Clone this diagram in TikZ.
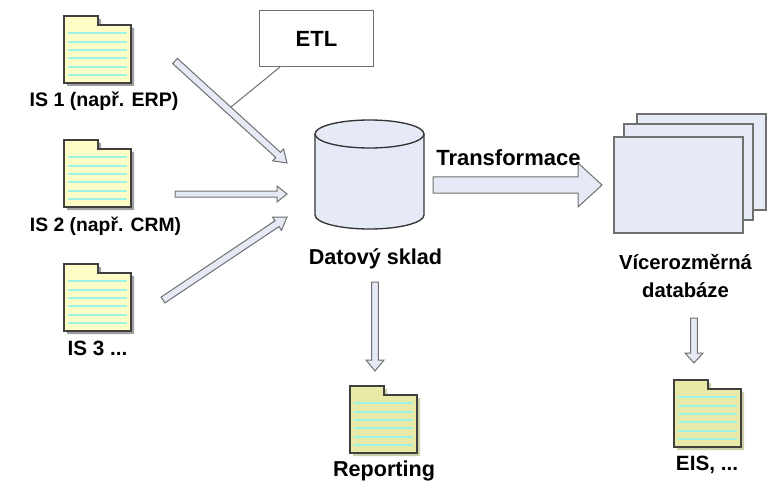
\documentclass[tikz,border=0pt]{standalone}
\usepackage{fontspec}
\setmainfont{Liberation Sans}
\usetikzlibrary{calc}
\definecolor{arrowfill}{HTML}{E6EAF6}
\definecolor{arrowline}{HTML}{707070}
\definecolor{notefill}{HTML}{FEFDC8}
\definecolor{notefilld}{HTML}{EAEAA8}
\definecolor{noteline}{HTML}{9CF5E4}
\definecolor{shadowa}{HTML}{A0A0A0}
\definecolor{shadowb}{HTML}{CFCFA8}
\tikzset{
  x=0.75pt,y=-0.75pt,
  lbl/.style={font=\fontsize{#1pt}{21pt}\selectfont\bfseries,align=center,inner sep=0pt},
  lbl/.default=14.7,
  blockarrow/.style={draw=arrowline,fill=arrowfill,line width=0.75pt,line join=miter},
  sheet/.style={draw=arrowline,fill=arrowfill,line width=0.9pt},
}
% \folder{x}{y}{fill}{shadow}{name}
\newcommand{\folder}[5]{%
  \begin{scope}[shift={(#1,#2)}]
    \fill[#4] (3,3) -- (37,3) -- (37,12) -- (70,12) -- (70,70) -- (3,70) -- cycle;
    \path[draw=black!75,line width=1pt,fill=#3] (0,0) coordinate (#5) -- (34,0) -- (34,9) -- (67,9) -- (67,67) -- (0,67) -- cycle;
    \foreach \yy in {17,26,34,42,51,59}
      \draw[noteline,line width=0.8pt] (4,\yy) -- (63,\yy);
  \end{scope}}
% \blockarr{a}{b}{shaft half}{head half}{head length}, sizes in px
\newcommand{\blockarr}[5]{%
  \coordinate (hb) at ($(#2)!{#5*0.75pt}!(#1)$);
  \draw[blockarrow]
    ($(#1)!{#3*0.75pt}!90:(#2)$) --
    ($(hb)!{#3*0.75pt}!-90:(#1)$) --
    ($(hb)!{#4*0.75pt}!-90:(#1)$) --
    (#2) --
    ($(hb)!{#4*0.75pt}!90:(#1)$) --
    ($(hb)!{#3*0.75pt}!90:(#1)$) --
    ($(#1)!{#3*0.75pt}!-90:(#2)$) -- cycle;}
\begin{document}
\begin{tikzpicture}
\useasboundingbox (0,0) rectangle (767,481);
\fill[white] (0,0) rectangle (767,481);

% sources
\folder{64}{16}{notefill}{shadowa}{f1}
\folder{64}{140}{notefill}{shadowa}{f2}
\folder{64}{264}{notefill}{shadowa}{f3}
\folder{350}{386}{notefilld}{shadowb}{f4}
\folder{674}{380}{notefilld}{shadowb}{f5}

\node[lbl] (l1) at (104,101) {IS 1 (např. ERP)};
\node[lbl=14.5] (l2) at (105.5,226) {IS 2 (např. CRM)};
\node[lbl=15.5] (l3) at (97.5,348) {IS 3 ...};
\node[lbl=16.2] (l4) at (384,471) {Reporting};
\node[lbl=15.5] (l5) at (707,465) {EIS, ...};

% ETL
\node[draw=arrowline,fill=white,line width=0.75pt,minimum width=85pt,minimum height=42pt,inner sep=0pt,font=\fontsize{16.5pt}{18pt}\selectfont\bfseries] (etl) at (316.5,39) {ETL};
\coordinate (etlfoot) at (280,67);
\coordinate (a1mid) at (231,107);
\draw[arrowline,line width=0.75pt] (etlfoot) -- (a1mid);

% arrows
\coordinate (a1s) at (175,61);  \coordinate (a1e) at (287,163);
\coordinate (a2s) at (175,194); \coordinate (a2e) at (287,194);
\coordinate (a3s) at (163,300); \coordinate (a3e) at (287,217);
\blockarr{a1s}{a1e}{3.5}{8}{12}
\blockarr{a2s}{a2e}{3}{8}{10}
\blockarr{a3s}{a3e}{3.5}{8}{12}

% warehouse
\draw[draw=black!80,fill=arrowfill,line width=1pt]
  (315,134) -- (315,215) arc[start angle=180,end angle=360,x radius=54.5,y radius=-14] -- (424,134);
\draw[draw=black!80,fill=arrowfill,line width=1pt] (369.5,134) ellipse[x radius=54.5,y radius=14];
\node[lbl=16.2] (dw) at (375.5,259) {Datový sklad};

% transform
\coordinate (ts) at (433,185); \coordinate (te) at (602,185);
\blockarr{ts}{te}{8}{22}{24}
\node[lbl=16.5,anchor=west] (tr) at (436,158) {Transformace};

% sheets
\draw[sheet] (637,114) rectangle (766,210);
\draw[sheet] (624,124) rectangle (753,220);
\draw[sheet] (614,137) rectangle (743,233);
\node[lbl=15.2] (vd) at (685.5,276) {Vícerozměrná\\databáze};

% down arrows
\coordinate (d1s) at (375,282); \coordinate (d1e) at (375,371);
\coordinate (d2s) at (694,318); \coordinate (d2e) at (694,363);
\blockarr{d1s}{d1e}{3.3}{9}{11}
\blockarr{d2s}{d2e}{3.3}{9}{10}
\end{tikzpicture}
\end{document}
